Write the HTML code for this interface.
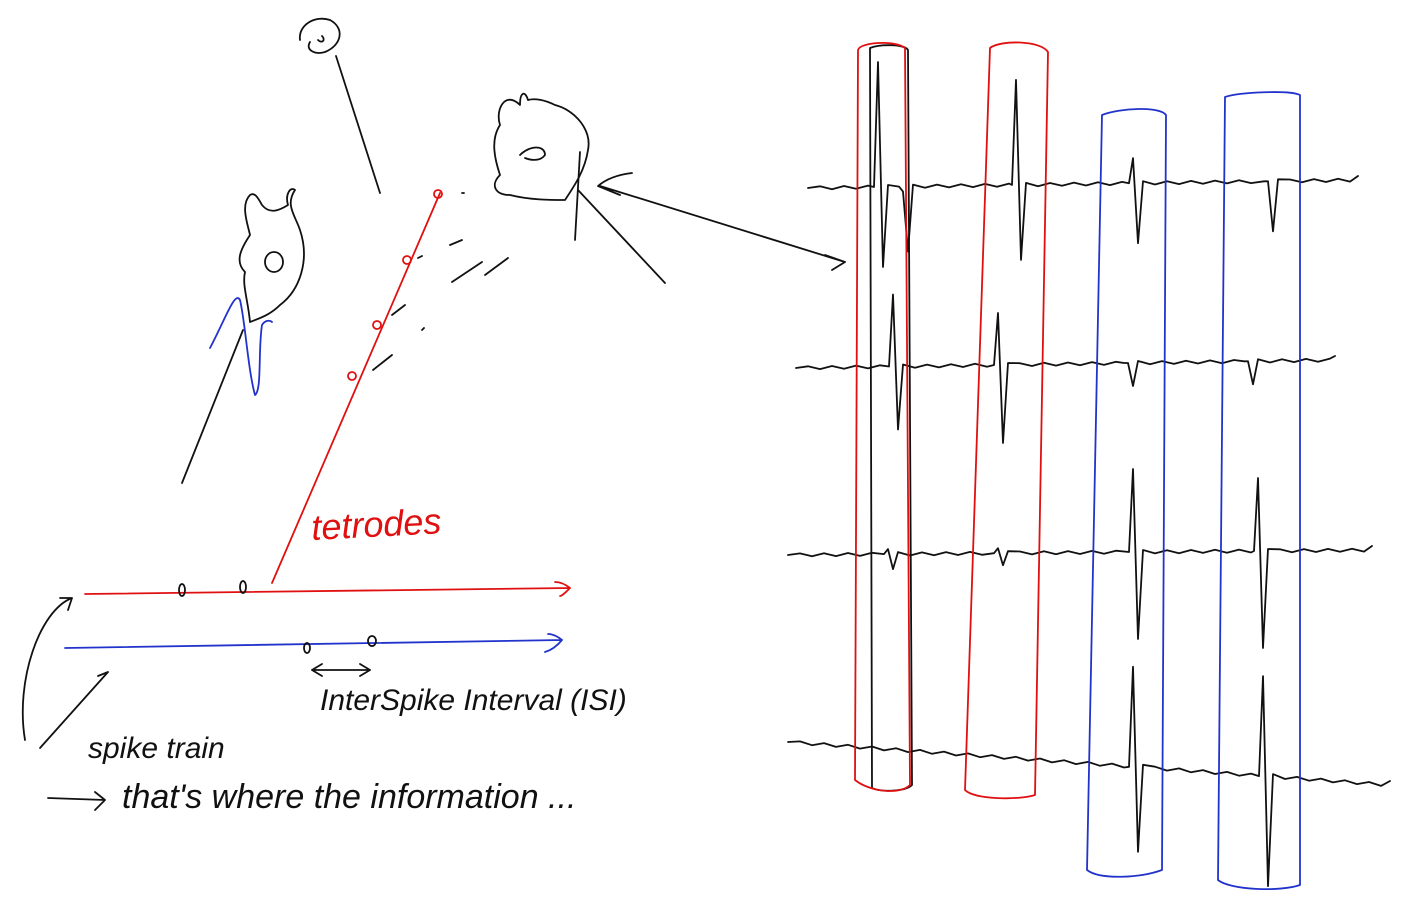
<!DOCTYPE html>
<html><head><meta charset="utf-8"><style>
html,body{margin:0;padding:0;background:#fff;}
svg{display:block;}
text{font-family:"Liberation Sans",sans-serif;font-style:italic;}
</style></head><body>
<svg id="s" width="1407" height="899" viewBox="0 0 1407 899" fill="none" stroke="#111" stroke-width="1.8" stroke-linecap="round" stroke-linejoin="round">
<rect x="0" y="0" width="1407" height="899" fill="#fff" stroke="none"/>
<g>
<path d="M300,40 C298,25 315,15 330,20 C345,28 342,45 325,52 C315,55 305,50 310,42"/>
<path d="M318,40 C322,44 326,40 322,36"/>
<path d="M336,56 L380,193"/>
</g>
<g>
<path d="M250,195 C240,205 248,225 250,235 C240,250 235,262 245,272 C242,285 248,300 250,322 C260,318 270,315 280,305 C300,290 310,260 300,230 C295,215 285,205 295,190 C290,186 285,195 288,205 C280,210 270,215 262,205 C258,198 255,192 250,195 Z"/>
<ellipse cx="274" cy="262" rx="9" ry="10"/>
<path d="M243,330 L182,483"/>
<path d="M210,348 C225,320 235,290 240,300 C245,320 248,370 255,395 C262,390 258,350 262,325 C265,320 270,320 272,322" stroke="#2233cc"/>
</g>
<g>
<path d="M520,105 C505,90 495,110 500,125 C490,140 495,160 500,175 C490,185 495,195 510,195 C530,200 550,200 565,200 C575,185 585,170 588,150 C592,130 575,110 555,105 C545,100 535,98 528,100 C525,90 520,92 520,105 Z"/>
<path d="M520,155 C530,145 545,145 545,155 C540,162 530,160 525,158"/>
<path d="M580,152 L575,240 M578,190 L665,283"/>
<path d="M632,173 C615,175 605,180 598,186 L620,195 M600,186 L845,262 M845,262 L825,255 M845,262 L832,270"/>
</g>
<g stroke="#e01010">
<path d="M440,193 L272,583"/>
<circle cx="438" cy="194" r="4"/><circle cx="407" cy="260" r="4"/><circle cx="377" cy="325" r="4"/><circle cx="352" cy="376" r="4"/>
</g>
<g>
<path d="M450,245 L462,240 M452,282 L482,262 M485,275 L508,258 M418,258 L422,256 M392,315 L405,305 M373,370 L392,355 M462,193 L464,193 M422,330 L424,328"/>
</g>
<text x="312" y="540" fill="#e01010" stroke="none" font-size="36" transform="rotate(-3 312 540)">tetrodes</text>
<g>
<path d="M85,594 L570,588 M570,588 C565,584 560,582 555,582 M570,588 C565,593 562,596 560,596" stroke="#e01010"/>
<ellipse cx="182" cy="590" rx="3" ry="6"/><ellipse cx="243" cy="587" rx="3" ry="6"/>
</g>
<g>
<path d="M65,648 L562,640 M562,640 C557,636 552,634 548,634 M562,640 C557,646 552,650 545,652" stroke="#2233cc"/>
<ellipse cx="307" cy="648" rx="3" ry="5"/><ellipse cx="372" cy="641" rx="4" ry="5"/>
</g>
<path d="M312,670 L370,670 M312,670 L322,664 M312,670 L322,676 M370,670 L360,664 M370,670 L360,676"/>
<text x="320" y="710" fill="#111" stroke="none" font-size="30">InterSpike Interval (ISI)</text>
<path d="M25,740 C15,680 40,610 72,598 M72,598 L60,598 M72,598 L68,610"/>
<path d="M40,748 L108,672 M108,672 L98,676"/>
<text x="88" y="758" fill="#111" stroke="none" font-size="30">spike train</text>
<path d="M48,798 L105,800 M105,800 L95,792 M105,800 L95,810"/>
<text x="122" y="808" fill="#111" stroke="none" font-size="34">that's where the information ...</text>
<g id="traces"></g>
<path d="M870,48 C880,44 905,44 908,50 L912,785 C905,792 880,792 872,788 Z"/>
<path d="M858,50 C860,42 895,40 905,48 L910,785 C900,795 870,792 855,780 Z" stroke="#e01010"/>
<path d="M990,48 C1000,40 1040,40 1048,52 L1035,795 C1020,800 975,800 965,790 Z" stroke="#e01010"/>
<path d="M1102,115 C1120,108 1160,106 1166,115 L1162,870 C1140,878 1100,880 1087,870 Z" stroke="#2233cc"/>
<path d="M1225,97 C1240,92 1290,90 1300,95 L1300,885 C1280,892 1230,890 1218,880 Z" stroke="#2233cc"/>
</svg>
<script>
const traceStart=[808,796,788,788];
const traceEnd=[1358,1335,1372,1390];
const traceBaseStart=[188,368,555,742];
const traceBaseEnd=[180,360,550,785];
const spikesT1=[[880,125,80],[905,-5,65],[1018,105,75],[1135,25,60],[1270,0,50]];
const spikesT2=[[895,72,63],[1000,52,78],[1130,0,23],[1250,0,23]];
const spikesT3=[[890,5,15],[1000,5,12],[1135,83,87],[1260,73,97]];
const spikesT4=[[1135,100,85],[1265,100,110]];
const allSpikes=[spikesT1,spikesT2,spikesT3,spikesT4];
const g=document.getElementById('traces');
for(let t=0;t<4;t++){
  const x0=traceStart[t],x1=traceEnd[t];
  const bf=x=>traceBaseStart[t]+(traceBaseEnd[t]-traceBaseStart[t])*(x-x0)/(x1-x0);
  let d='M'+x0+','+bf(x0).toFixed(1);
  let x=x0,k=0;
  const sp=allSpikes[t];
  const step=()=>{x+=12;k++;d+=' L'+x+','+(bf(x)+(k%2?-1.5:1.5)).toFixed(1);};
  for(const s of sp){
    while(x+12<s[0]-8){step();}
    const b=bf(s[0]);
    d+=' L'+(s[0]-6)+','+b.toFixed(1)+' L'+(s[0]-2)+','+(b-s[1]).toFixed(1)+' L'+(s[0]+3)+','+(b+s[2]).toFixed(1)+' L'+(s[0]+8)+','+(b-2).toFixed(1);
    x=s[0]+8;
  }
  while(x+12<x1){step();}
  d+=' L'+x1+','+(bf(x1)-4).toFixed(1);
  const p=document.createElementNS('http://www.w3.org/2000/svg','path');
  p.setAttribute('d',d);
  
  
  g.appendChild(p);
}
</script>
</body></html>
